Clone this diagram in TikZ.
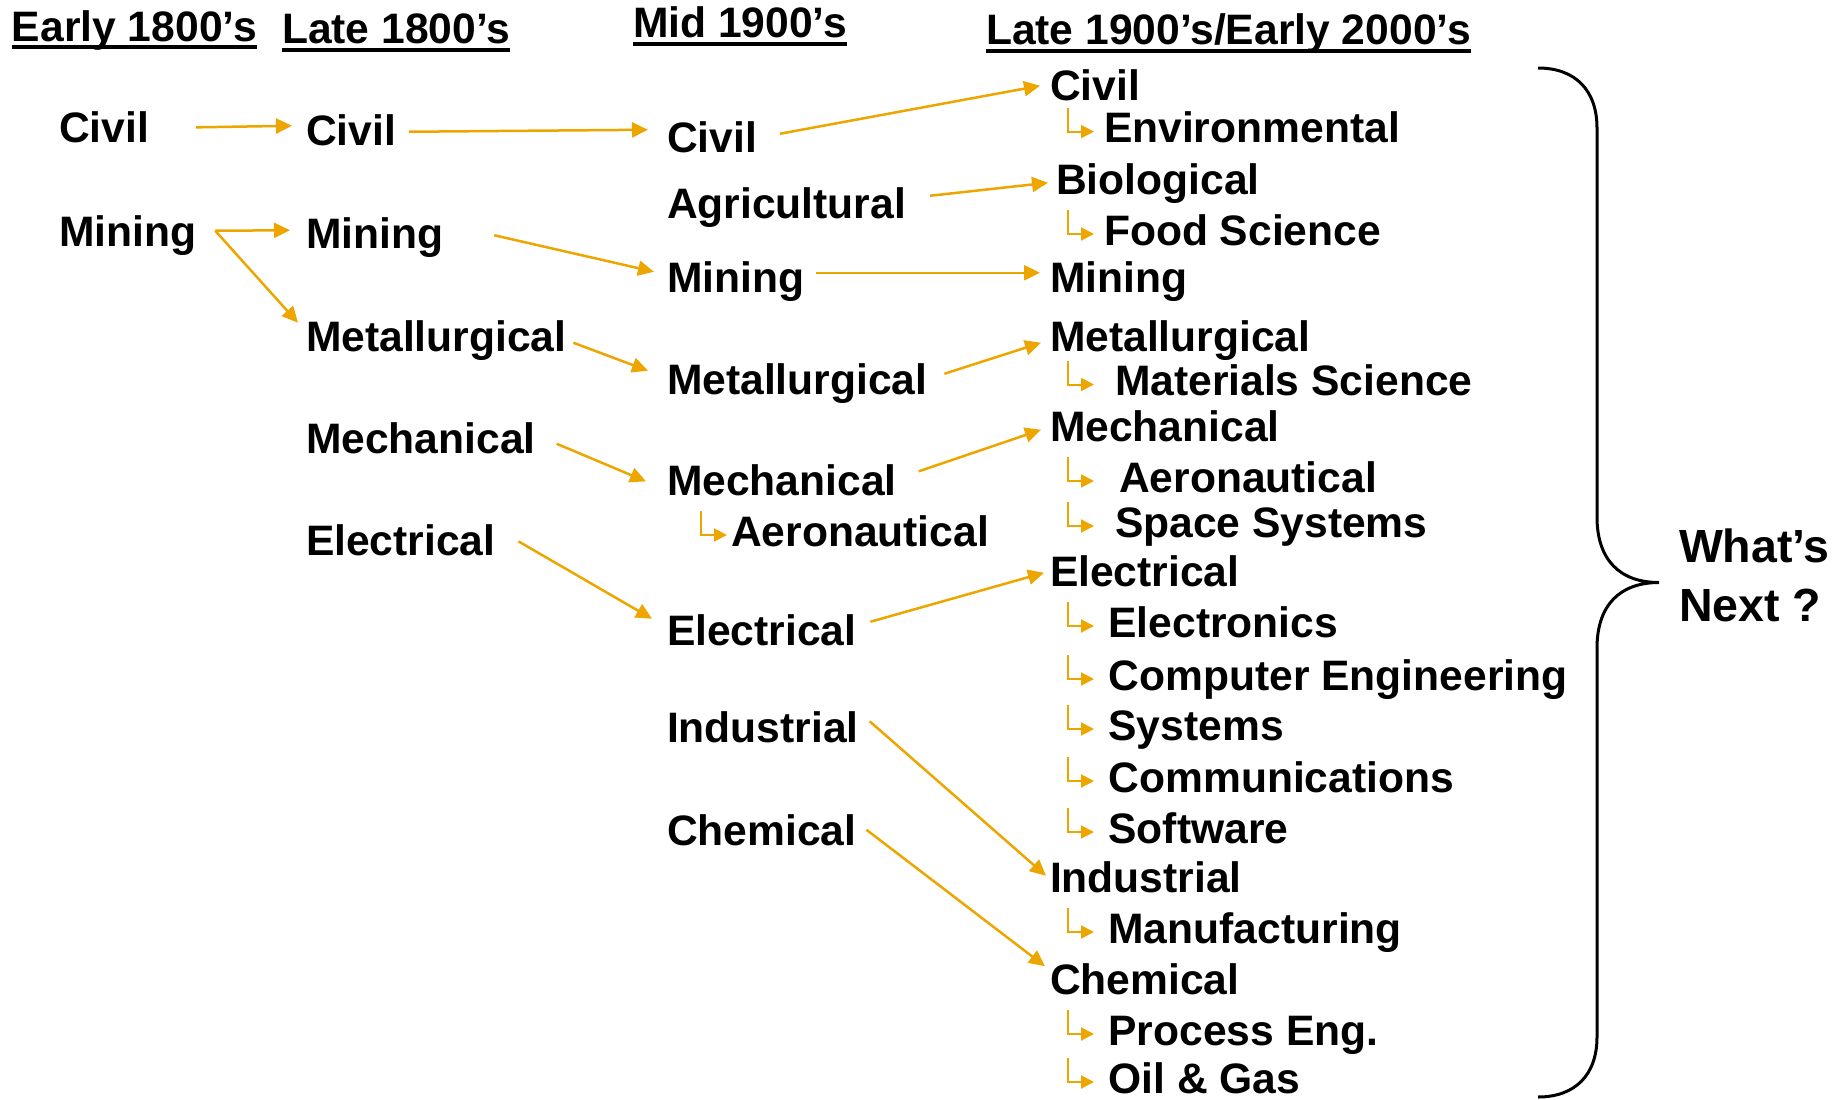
\documentclass[tikz,border=0pt]{standalone}
\usepackage{fontspec}
\setmainfont{Liberation Sans}
\usetikzlibrary{arrows.meta,calc}
\definecolor{naranja}{RGB}{237,165,0}

\begin{document}
\begin{tikzpicture}[x=1pt,y=-1pt,
    every node/.style={inner sep=0pt,outer sep=0pt,anchor=base west,
      font=\fontsize{42.6}{50}\selectfont\bfseries,text height=30.5pt,text depth=0pt},
    conn/.style={draw=naranja,line width=2.5pt,-{Triangle[length=16pt,width=15pt]}},
    hook/.style={draw=naranja,line width=2pt,-{Triangle[length=13pt,width=13pt]}},
    subrayado/.style={line width=4pt}]
    \useasboundingbox (0,0) rectangle (1845,1100);

    % Encabezados
    \node (h1) at (12,41) {Early 1800's};
    \node (h2) at (282,43.5) {Late 1800's};
    \node (h3) at (633,37.6) {Mid 1900's};
    \node (h4) at (986,44.7) {Late 1900's/Early 2000's};
    \foreach \h in {h1,h2,h3,h4}
        \draw[subrayado] ([yshift=-6pt]\h.base west) -- ([yshift=-6pt]\h.base east);

    % Early 1800's
    \node (e1civ) at (59,142.6) {Civil};
    \node (e1min) at (59,246) {Mining};

    % Late 1800's
    \node (l8civ) at (306,145) {Civil};
    \node (l8min) at (306,248.5) {Mining};
    \node (l8met) at (306,351) {Metallurgical};
    \node (l8mec) at (306,453) {Mechanical};
    \node (l8ele) at (306,555.6) {Electrical};

    % Mid 1900's
    \node (m9civ) at (667,152) {Civil};
    \node (m9agr) at (667,218) {Agricultural};
    \node (m9min) at (667,292) {Mining};
    \node (m9met) at (667,394) {Metallurgical};
    \node (m9mec) at (667,495.6) {Mechanical};
    \node (m9aer) at (731,546) {Aeronautical};
    \node (m9ele) at (667,645) {Electrical};
    \node (m9ind) at (667,742.6) {Industrial};
    \node (m9che) at (667,845) {Chemical};

    % Late 1900's/Early 2000's
    \node (civ) at (1050,100) {Civil};
    \node (env) at (1104,142.6) {Environmental};
    \node (bio) at (1056,194) {Biological};
    \node (food) at (1104,245) {Food Science};
    \node (min) at (1050,292) {Mining};
    \node (met) at (1050,351) {Metallurgical};
    \node (mat) at (1115,395.5) {Materials Science};
    \node (mec) at (1050,441) {Mechanical};
    \node (aer) at (1119,492) {Aeronautical};
    \node (spa) at (1115,537) {Space Systems};
    \node (ele) at (1050,586) {Electrical};
    \node (elo) at (1108.5,637) {Electronics};
    \node (comp) at (1108.5,690) {Computer Engineering};
    \node (sys) at (1108.5,740) {Systems};
    \node (comm) at (1108.5,792) {Communications};
    \node (soft) at (1108.5,843) {Software};
    \node (ind) at (1050,892) {Industrial};
    \node (manu) at (1108.5,943) {Manufacturing};
    \node (che) at (1050,994.5) {Chemical};
    \node (proc) at (1108.5,1045) {Process Eng.};
    \node (oil) at (1108.5,1093) {Oil \& Gas};

    % Flechas entre columnas
    \draw[conn] ([shift={(47,0)}]e1civ.east) -- ([shift={(-14,-4)}]l8civ.west);
    \draw[conn] ([shift={(19,0)}]e1min.east) -- ([shift={(-16,-3)}]l8min.west);
    \draw[conn] ([shift={(19,0)}]e1min.east) -- ([shift={(-8,-13)}]l8met.west);

    \draw[conn] ([shift={(13,2)}]l8civ.east) -- ([shift={(-19,-7)}]m9civ.west);
    \draw[conn] ([shift={(51,2)}]l8min.east) -- ([shift={(-13,-5)}]m9min.west);
    \draw[conn] ([shift={(7,7)}]l8met.east) -- ([shift={(-19,-8)}]m9met.west);
    \draw[conn] ([shift={(21,6)}]l8mec.east) -- ([shift={(-21,1)}]m9mec.west);
    \draw[conn] ([shift={(23,1)}]l8ele.east) -- ([shift={(-15,-11)}]m9ele.west);

    \draw[conn] ([shift={(23,-3)}]m9civ.east) -- ([shift={(-10,1)}]civ.west);
    \draw[conn] ([shift={(24,-7)}]m9agr.east) -- ([shift={(-8,4)}]bio.west);
    \draw[conn] ([shift={(12,-4)}]m9min.east) -- ([shift={(-10,-4)}]min.west);
    \draw[conn] ([shift={(17,-5)}]m9met.east) -- ([shift={(-9,7)}]met.west);
    \draw[conn] ([shift={(22,-9)}]m9mec.east) -- ([shift={(-9,4)}]mec.west);
    \draw[conn] ([shift={(14,-8)}]m9ele.east) -- ([shift={(-6,2)}]ele.west);
    \draw[conn] ([shift={(11,-6)}]m9ind.east) -- ([shift={(-4,-1)}]ind.west);
    \draw[conn] ([shift={(10,0)}]m9che.east) -- ([shift={(-5,-13)}]che.west);

    % Ganchos de las subramas
    \coordinate (m9hk) at (701,0);
    \coordinate (m9hkend) at (727,0);
    \draw[hook] ($(m9hk |- m9aer.base)+(0,-35)$) |- ($(m9hkend |- m9aer.base)+(0,-11)$);
    \coordinate (hk) at (1067.5,0);
    \coordinate (hkend) at (1094,0);
    \foreach \n in {env,food,mat,aer,spa,elo,comp,sys,comm,soft,manu,proc,oil}
        \draw[hook] ($(hk |- \n.base)+(0,-35)$) |- ($(hkend |- \n.base)+(0,-11)$);

    % Llave
    \draw[line width=3pt] (1538,68) .. controls (1575,68) and (1597,90) .. (1597,128)
        -- (1597,517) .. controls (1597,560) and (1620,582.5) .. (1659,582.5)
        .. controls (1620,582.5) and (1597,605) .. (1597,648)
        -- (1597,1037) .. controls (1597,1075) and (1575,1097) .. (1538,1097);
    \node[font=\fontsize{46.5}{55}\selectfont\bfseries] (whats) at (1679,562.5) {What's};
    \node[font=\fontsize{46.5}{55}\selectfont\bfseries] (next) at (1679,621) {Next ?};
\end{tikzpicture}
\end{document}
